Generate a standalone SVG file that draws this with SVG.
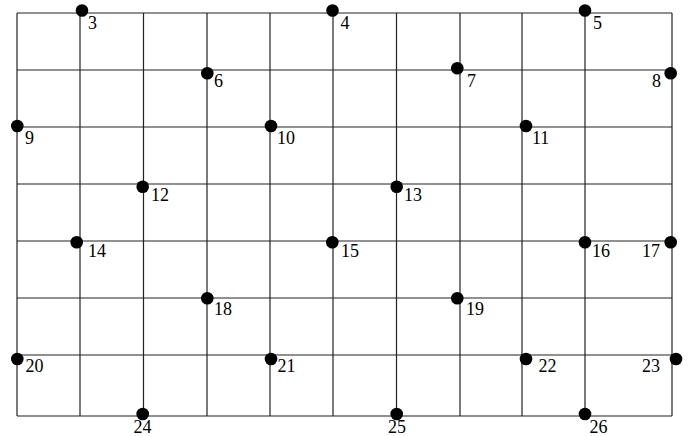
<svg xmlns="http://www.w3.org/2000/svg" width="691" height="436" viewBox="0 0 691 436">
<style>
.g line{stroke:#222;stroke-width:1.2}
circle{fill:#000}
text{font-family:"Liberation Serif","Times New Roman",serif;font-size:18px;fill:#000}
</style>
<rect width="691" height="436" fill="#fff"/>
<g id="connectors" class="g">
<line x1="17" y1="13" x2="672" y2="13"/>
<line x1="17" y1="70" x2="672" y2="70"/>
<line x1="17" y1="127" x2="672" y2="127"/>
<line x1="17" y1="184" x2="672" y2="184"/>
<line x1="17" y1="241" x2="672" y2="241"/>
<line x1="17" y1="298" x2="672" y2="298"/>
<line x1="17" y1="355" x2="672" y2="355"/>
<line x1="17" y1="416" x2="672" y2="416"/>
<line x1="17" y1="13" x2="17" y2="416"/>
<line x1="80" y1="13" x2="80" y2="416"/>
<line x1="143.5" y1="13" x2="143.5" y2="416"/>
<line x1="207" y1="13" x2="207" y2="416"/>
<line x1="270" y1="13" x2="270" y2="416"/>
<line x1="333" y1="13" x2="333" y2="416"/>
<line x1="396.5" y1="13" x2="396.5" y2="416"/>
<line x1="460" y1="13" x2="460" y2="416"/>
<line x1="522" y1="13" x2="522" y2="416"/>
<line x1="585" y1="13" x2="585" y2="416"/>
<line x1="672" y1="13" x2="672" y2="416"/>
</g>
<g id="n3"><circle cx="82" cy="10.5" r="6.3"/><text x="88" y="29">3</text></g>
<g id="n4"><circle cx="332.5" cy="10.5" r="6.3"/><text x="340.5" y="29">4</text></g>
<g id="n5"><circle cx="585" cy="10.5" r="6.3"/><text x="593" y="29">5</text></g>
<g id="n6"><circle cx="207.3" cy="73.3" r="6.3"/><text x="214" y="87">6</text></g>
<g id="n7"><circle cx="457.3" cy="68.3" r="6.3"/><text x="467" y="87">7</text></g>
<g id="n8"><circle cx="670.7" cy="73.3" r="6.3"/><text x="652" y="87">8</text></g>
<g id="n9"><circle cx="17.3" cy="126" r="6.3"/><text x="25" y="144">9</text></g>
<g id="n10"><circle cx="271" cy="126" r="6.3"/><text x="277" y="144">10</text></g>
<g id="n11"><circle cx="526" cy="126" r="6.3"/><text x="532" y="144">11</text></g>
<g id="n12"><circle cx="142.7" cy="186.7" r="6.3"/><text x="151" y="201">12</text></g>
<g id="n13"><circle cx="396.7" cy="186.7" r="6.3"/><text x="404" y="201">13</text></g>
<g id="n14"><circle cx="76.7" cy="242.3" r="6.3"/><text x="88" y="257.3">14</text></g>
<g id="n15"><circle cx="332.3" cy="242.3" r="6.3"/><text x="341" y="257.3">15</text></g>
<g id="n16"><circle cx="585" cy="242.3" r="6.3"/><text x="592" y="257.3">16</text></g>
<g id="n17"><circle cx="670.7" cy="242.3" r="6.3"/><text x="642" y="257.3">17</text></g>
<g id="n18"><circle cx="207.3" cy="298.3" r="6.3"/><text x="214" y="315">18</text></g>
<g id="n19"><circle cx="457.3" cy="298.3" r="6.3"/><text x="466" y="315">19</text></g>
<g id="n20"><circle cx="17.3" cy="359" r="6.3"/><text x="25.5" y="371.7">20</text></g>
<g id="n21"><circle cx="271" cy="359" r="6.3"/><text x="277.5" y="371.7">21</text></g>
<g id="n22"><circle cx="526" cy="359" r="6.3"/><text x="538.5" y="371.7">22</text></g>
<g id="n23"><circle cx="676" cy="359" r="6.3"/><text x="642" y="371.7">23</text></g>
<g id="n24"><circle cx="142.7" cy="414" r="6.3"/><text x="133.5" y="433">24</text></g>
<g id="n25"><circle cx="396.7" cy="414" r="6.3"/><text x="388" y="433">25</text></g>
<g id="n26"><circle cx="585" cy="414" r="6.3"/><text x="589.5" y="433">26</text></g>
</svg>
